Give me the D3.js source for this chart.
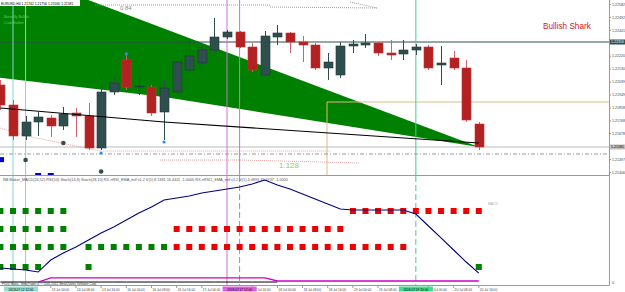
<!DOCTYPE html>
<html><head><meta charset="utf-8">
<script src="https://cdn.jsdelivr.net/npm/d3@7"></script>
<style>body{margin:0;background:#fff}svg{display:block}</style>
</head><body><script>
// EURUSD H4 candles, index 0 = 12 Jul 08:00
const candleOpen  = [1.22015,1.21875,1.21658,1.21756,1.21784,1.21728,1.21819,1.21798,1.21574,1.21966,1.22190,1.22001,1.22001,1.21826,1.21966,1.22120,1.22169,1.22260,1.22351,1.22386,1.22281,1.22085,1.22351,1.22379,1.22316,1.22295,1.22134,1.22085,1.22288,1.22295,1.22309,1.22239,1.22232,1.22260,1.22281,1.22155,1.22204,1.22134,1.21742];
const candleHigh  = [1.22050,1.21910,1.21798,1.21826,1.21805,1.21861,1.21854,1.21889,1.22085,1.22071,1.22246,1.22064,1.22015,1.22050,1.22225,1.22330,1.22288,1.22484,1.22400,1.22393,1.22309,1.22393,1.22435,1.22386,1.22358,1.22309,1.22239,1.22316,1.22330,1.22372,1.22316,1.22330,1.22330,1.22302,1.22295,1.22288,1.22253,1.22190,1.21756];
const candleLow   = [1.21840,1.21630,1.21630,1.21658,1.21651,1.21700,1.21651,1.21560,1.21560,1.21945,1.21980,1.21945,1.21798,1.21630,1.21945,1.22106,1.22155,1.22239,1.22337,1.22274,1.22106,1.22064,1.22295,1.22239,1.22176,1.22120,1.22050,1.22064,1.22239,1.22274,1.22218,1.22190,1.22190,1.22225,1.22120,1.22015,1.22120,1.21756,1.21560];
const candleClose = [1.21875,1.21658,1.21756,1.21791,1.21728,1.21812,1.21798,1.21574,1.21966,1.22029,1.22001,1.22008,1.21819,1.21994,1.22176,1.22218,1.22260,1.22351,1.22386,1.22281,1.22120,1.22358,1.22379,1.22316,1.22295,1.22134,1.22176,1.22288,1.22302,1.22309,1.22239,1.22225,1.22260,1.22281,1.22134,1.22169,1.22134,1.21770,1.21581];

const priceTicks = [1.22582,1.22492,1.22401,1.22311,1.22220,1.22130,1.22039,1.21949,1.21858,1.21768,1.21678,1.21587,1.21497,1.21406];
// labels hidden under the highlighted line labels are left out
const timeLabels = ["13 Jul 00:00","13 Jul 08:00","13 Jul 16:00","16 Jul 00:00","16 Jul 08:00","16 Jul 16:00","17 Jul 00:00","17 Jul 16:00","18 Jul 00:00","18 Jul 08:00","18 Jul 16:00","19 Jul 00:00","19 Jul 08:00","20 Jul 00:00","20 Jul 08:00","20 Jul 16:00"];
const timeLabelIndex = [4,6,8,10,12,14,16,20,22,24,26,28,30,34,36,38];
const lineLabels = ["2018.07.12 12:00","2018.07.17 12:00","2018.07.19 20:00"];
const lineLabelIndex = [1.5, 19, 33];

// harmonic pattern area (index, price)
const sharkIndex = [-8, 38, 13, -8];
const sharkPrice = [1.23107, 1.21581, 1.21931, 1.22148];
const maIndex = [0, 13, 38];
const maPrice = [1.21854, 1.21756, 1.21609];

const levelLine = 1.22316, tanLine = 1.21896, stopLine = 1.21532;

// sub window: indicator signals per candle (1 up, -1 down, 0 none)
const macdSig  = [1,1,1,1,1,1,0,0,0,0,0,0,0,0,0,0,0,0,0,0,0,0,0,0,0,0,0,0,-1,-1,-1,-1,-1,-1,-1,-1,-1,-1,-1];
const rsiSig   = [1,1,1,1,1,1,0,0,0,0,0,0,0,0,-1,-1,-1,-1,-1,-1,-1,-1,-1,-1,-1,-1,-1,-1,0,0,0,0,0,0,0,0,0,0,0];
const stochSig = [1,1,1,1,1,1,0,1,1,1,1,1,1,1,-1,-1,-1,-1,-1,-1,-1,-1,-1,-1,-1,-1,-1,-1,-1,-1,-1,-1,-1,0,0,0,0,0,0];
const stoch2Sig= [1,1,1,1,0,0,0,1,0,0,0,0,0,0,0,0,0,0,0,0,0,0,0,0,0,0,0,0,0,0,0,0,0,0,0,0,0,0,1];
const nrsiLine = [12.7,11.8,10.8,8.8,20.6,27.5,33.3,40.2,47.1,52.9,59.8,66.7,72.5,79.4,81.4,83.3,86.3,88.2,90.2,92.2,95.1,99.0,94.1,90.2,85.3,80.4,75.5,70.6,69.6,69.6,69.6,69.6,69.6,65.7,53.9,42.2,30.4,18.6,7.8];
const nrsi2Line = [-1,-1,-1,-1,3,3,3,3,3,3,3,3,3,3,3,3,3,3,3,3,3,3,0,0,0,0,0,0,0,0,0,0,0,0,0,0,0,0,0];
const baseLine = [-1,-1,-1,-1,-1,-1,-1,-1,-1,-1,-1,-1,-1,-1,-1,-1,-1,-1,-1,-1,-1,-1,-1];

const W = 625, H = 292, plotR = 609, mainB = 175, subT = 176, subB = 285;
const font = "'Liberation Sans', Arial, sans-serif";
const svg = d3.select("body").append("svg").attr("width", W).attr("height", H)
  .style("font-family", font);
svg.append("rect").attr("width", W).attr("height", H).attr("fill", "#fff");

const x = d3.scaleLinear().domain([0, 38]).range([0.4, 478.8]);
const y = d3.scaleLinear().domain([1.2261, 1.21385]).range([0, 175]);
const ys = d3.scaleLinear().domain([0, 100]).range([281, 179]);

svg.append("clipPath").attr("id", "cm").append("rect").attr("width", plotR).attr("height", mainB);
svg.append("clipPath").attr("id", "cs").append("rect").attr("y", subT).attr("width", plotR).attr("height", subB - subT);
const main = svg.append("g").attr("clip-path", "url(#cm)");
const sub = svg.append("g").attr("clip-path", "url(#cs)");

// green shark area
const pts = sharkIndex.map((d, i) => [x(d), y(sharkPrice[i])]);
main.append("path").attr("d", d3.line()(pts) + "Z").attr("fill", "#008000");

// dotted pattern lines
const dotted = [[[95,5],[270,5]],[[270,7],[377,8]],[[350,2],[377,8]],[[0,128],[27,136],[100,151],[330,151]],[[160,160],[240,160],[360,163]]];
dotted.forEach((l, k) => main.append("path").attr("d", d3.line()(l)).attr("fill", "none")
  .attr("stroke", k < 3 ? "#888" : "#d89090").attr("stroke-width", 0.8).attr("stroke-dasharray", "1,1"));

// horizontal levels
main.append("line").attr("x1", 0).attr("x2", plotR).attr("y1", y(levelLine)).attr("y2", y(levelLine)).attr("stroke", "#2f4f4f");
main.append("line").attr("x1", 327).attr("x2", plotR).attr("y1", y(tanLine)).attr("y2", y(tanLine)).attr("stroke", "#deb887");
main.append("line").attr("x1", 327).attr("x2", 327).attr("y1", y(tanLine)).attr("y2", mainB).attr("stroke", "#deb887");
main.append("line").attr("x1", 0).attr("x2", plotR).attr("y1", y(stopLine)).attr("y2", y(stopLine)).attr("stroke", "#999").attr("stroke-dasharray", "4,2,1,2");
main.append("line").attr("x1", 0).attr("x2", plotR).attr("y1", y(candleClose[38])).attr("y2", y(candleClose[38])).attr("stroke", "#bbb");

// vertical marker lines
const vlines = [[1, "#8fd0d0", false], [2, "#8fd0d0", false], [18, "#d070d0", false], [19, "#d070d0", true], [33, "#3cd08e", true]];
vlines.forEach(([i, c, dash]) => {
  main.append("line").attr("x1", x(i)).attr("x2", x(i)).attr("y1", 0).attr("y2", mainB).attr("stroke", c);
  sub.append("line").attr("x1", x(i)).attr("x2", x(i)).attr("y1", subT).attr("y2", subB).attr("stroke", c)
    .attr("stroke-dasharray", dash ? "6,3" : null);
});

// candles
const idx = d3.range(candleOpen.length);
const bull = i => candleClose[i] >= candleOpen[i];
main.selectAll(".wick").data(idx).join("line")
  .attr("x1", i => Math.round(x(i)) + 0.5).attr("x2", i => Math.round(x(i)) + 0.5)
  .attr("y1", i => y(candleHigh[i])).attr("y2", i => y(candleLow[i]))
  .attr("stroke", i => bull(i) ? "#2f4f4f" : "#d06070");
main.selectAll(".body").data(idx).join("rect")
  .attr("x", i => Math.round(x(i)) - 4).attr("width", 9)
  .attr("y", i => y(Math.max(candleOpen[i], candleClose[i])))
  .attr("height", i => Math.max(1, Math.abs(y(candleOpen[i]) - y(candleClose[i]))))
  .attr("fill", i => bull(i) ? "#2f4f4f" : "#b22222")
  .attr("stroke", i => bull(i) ? "#223838" : "#c83030").attr("stroke-width", 0.6);

// black pattern line
main.append("path").attr("d", d3.line()(maIndex.map((d, i) => [x(d), y(maPrice[i])])))
  .attr("fill", "none").attr("stroke", "#000").attr("stroke-width", 1.2);

// dots
[[5, 1.21609, "#2f4f4f"], [2, 1.2149, "#2f4f4f"], [8, 1.2141, "#2f4f4f"]].forEach(([i, p, c]) =>
  main.append("circle").attr("cx", x(i)).attr("cy", y(p)).attr("r", 2.3).attr("fill", c));
[[10, 1.22232, "#1e90ff"], [13, 1.21616, "#1e90ff"], [8, 1.21539, "#1e90ff"]].forEach(([i, p, c]) =>
  main.append("circle").attr("cx", x(i)).attr("cy", y(p)).attr("r", 1.6).attr("fill", c));
[[0, 1.2151, 4, 5], [3, 1.21399, 6, 3], [4, 1.21399, 6, 3]].forEach(([i, p, w, h]) =>
  main.append("rect").attr("x", i ? x(i) - 3 : 0).attr("y", y(p)).attr("width", w).attr("height", h).attr("fill", "#0000cd"));

// texts main
main.append("rect").attr("x", 0).attr("y", 0).attr("width", 80).attr("height", 6).attr("fill", "#fff");
main.append("text").attr("x", 1).attr("y", 4.6).attr("font-size", 3.4).attr("fill", "#000")
  .text("EURUSD,H4  1.21742  1.21756  1.21560  1.21581");
main.append("text").attr("x", 3).attr("y", 17.5).attr("font-size", 3.6).attr("fill", "#5fd35f").text("-Butterfly Bullish");
main.append("text").attr("x", 3).attr("y", 23.5).attr("font-size", 3.6).attr("fill", "#5fd35f").text("-Crab Bullish");
main.append("text").attr("x", 120).attr("y", 10).attr("font-size", 6).attr("fill", "#888").text("0.84");
main.append("text").attr("x", 279).attr("y", 168).attr("font-size", 8).attr("fill", "#9acd32").text("1.128");
svg.append("text").attr("x", 543).attr("y", 28.5).attr("font-size", 8.2).attr("fill", "#d42020").text("Bullish Shark");

// panel frames
svg.append("line").attr("x1", 0).attr("x2", plotR).attr("y1", mainB + 0.5).attr("y2", mainB + 0.5).attr("stroke", "#999");
svg.append("line").attr("x1", 0).attr("x2", plotR + 0.5).attr("y1", subB + 0.5).attr("y2", subB + 0.5).attr("stroke", "#999");
svg.append("line").attr("x1", plotR + 0.5).attr("x2", plotR + 0.5).attr("y1", 0).attr("y2", subB).attr("stroke", "#999");

// price axis
const yAxis = d3.axisRight(y).tickValues(priceTicks).tickSize(1.5).tickFormat(d3.format(".5f"));
const ga = svg.append("g").attr("transform", `translate(${plotR + 0.5},0)`).call(yAxis);
ga.select(".domain").remove();
ga.selectAll("text").attr("font-size", 3.6).attr("fill", "#444").attr("x", 2.5).style("font-family", font);
ga.selectAll("line").attr("stroke", "#999");
[[levelLine, "#2f4f4f", "#fff"], [candleClose[38], "#c0c0c0", "#000"]].forEach(([p, bg, fg]) => {
  svg.append("rect").attr("x", plotR + 1).attr("y", y(p) - 2.5).attr("width", 15).attr("height", 5).attr("fill", bg);
  svg.append("text").attr("x", plotR + 2).attr("y", y(p) + 1.3).attr("font-size", 3.6).attr("fill", fg).text(d3.format(".5f")(p));
});
svg.append("text").attr("x", 612).attr("y", 284).attr("font-size", 3.6).attr("fill", "#444").text("0");

// sub window
sub.append("text").attr("x", 3).attr("y", 180.5).attr("font-size", 3.8).attr("fill", "#555")
  .text("NB Maker_MACD(24,52) RSI(10) Stoch(14,6) Stoch(28,10) RX-nRSI_EMA_mtf v1.2 V(1) 8.1381 16.4411 -1.0000 RX-nRSI2_EMA_mtf v1.2 V(1) 4.0893 33.6737 -1.0000");
const rows = [[macdSig, 211], [rsiSig, 229], [stochSig, 247], [stoch2Sig, 267]];
rows.forEach(([sig, ry]) => {
  sub.append("g").selectAll("rect").data(idx.filter(i => sig[i] !== 0)).join("rect")
    .attr("x", i => x(i) - 3).attr("y", ry - 3).attr("width", 6).attr("height", 6)
    .attr("fill", i => sig[i] > 0 ? "#008000" : "#ee0000");
});
sub.append("text").attr("x", 488).attr("y", 205).attr("font-size", 3.4).attr("fill", "#aaa").text("MACD");
sub.append("path").attr("d", d3.line()(baseLine.map((v, i) => [x(i), ys(v)])))
  .attr("fill", "none").attr("stroke", "#000").attr("stroke-width", 1);
sub.append("path").attr("d", d3.line()(idx.filter(i => i >= 3).map(i => [x(i), ys(nrsi2Line[i])])))
  .attr("fill", "none").attr("stroke", "#cc00cc").attr("stroke-width", 1.3);
sub.append("path").attr("d", d3.line()(idx.map(i => [x(i), ys(nrsiLine[i])])))
  .attr("fill", "none").attr("stroke", "#000080").attr("stroke-width", 1.1);
svg.append("text").attr("x", 2).attr("y", 284.5).attr("font-size", 3).attr("fill", "#333")
  .text("FXDD Malta - MetaTrader 4, © 2001-2012, MetaQuotes Software Corp.");

// time axis
const gt = svg.append("g");
timeLabels.forEach((t, k) => {
  const tx = x(timeLabelIndex[k]);
  gt.append("line").attr("x1", tx).attr("x2", tx).attr("y1", subB + 1).attr("y2", subB + 3).attr("stroke", "#999");
  gt.append("text").attr("x", tx + 1).attr("y", 290.5).attr("font-size", 3.2).attr("fill", "#444").text(t);
});
const lineColors = ["#8fe0d0", "#e060e0", "#40e090"];
lineLabels.forEach((t, k) => {
  const cx = Math.max(21, x(lineLabelIndex[k]));
  gt.append("rect").attr("x", cx - 17).attr("y", 286.5).attr("width", 34).attr("height", 5).attr("fill", lineColors[k]);
  gt.append("text").attr("x", cx).attr("y", 290.5).attr("text-anchor", "middle").attr("font-size", 3.2).attr("fill", "#000").text(t);
});
</script></body></html>
